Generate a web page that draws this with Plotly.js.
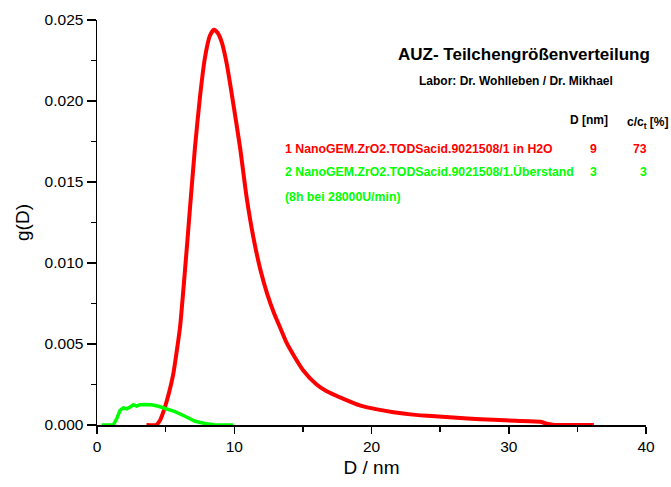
<!DOCTYPE html>
<html>
<head>
<meta charset="utf-8">
<script src="https://cdn.plot.ly/plotly-3.0.1.min.js"></script>
<style>html,body{margin:0;padding:0;background:#fff;}#chart{width:671px;height:487px;}</style>
</head>
<body>
<div id="chart"></div>
<script>
// Series 1 (red): NanoGEM.ZrO2.TODSacid.9021508/1 in H2O
var redD = [3.6, 4.3, 4.6, 4.95, 5.25, 5.56, 5.8, 6.05, 6.41, 6.78, 7.14, 7.50, 7.87, 8.23, 8.52, 8.8, 9.1, 9.45, 9.93, 10.42, 10.90, 11.39, 11.9, 12.4, 12.9, 13.4, 13.8, 14.4, 15.0, 16.0, 16.7, 18.0, 19.2, 20.5, 21.6, 23.0, 24.9, 27.0, 28.9, 30.5, 32.3, 32.7, 33.2, 36.2];
var redG = [0, 0, 0.0003, 0.0011, 0.0020, 0.00316, 0.0045, 0.00604, 0.00954, 0.01344, 0.01715, 0.02023, 0.0227, 0.02404, 0.0244, 0.0242, 0.0236, 0.0223, 0.01983, 0.01715, 0.01406, 0.0116, 0.0096, 0.0081, 0.0069, 0.0059, 0.0051, 0.0042, 0.0034, 0.0025, 0.0021, 0.0016, 0.0012, 0.00095, 0.00079, 0.00064, 0.00052, 0.0004, 0.00032, 0.00026, 0.0002, 0.0001, 0.00002, 0];
// Series 2 (green): NanoGEM.ZrO2.TODSacid.9021508/1.Überstand
var greenD = [0.34, 1.19, 1.43, 1.68, 1.92, 2.16, 2.40, 2.65, 2.89, 3.13, 3.50, 3.98, 4.47, 4.95, 5.68, 6.41, 7.14, 7.87, 8.6, 9.93];
var greenG = [0, 0, 0.00038, 0.0009, 0.00106, 0.001, 0.0011, 0.00125, 0.00116, 0.00125, 0.00127, 0.00125, 0.00116, 0.00104, 0.00083, 0.00054, 0.00023, 0.00009, 0, 0];

var titleText = "AUZ- Teilchengrößenverteilung";
var subtitleText = "Labor: Dr. Wohlleben / Dr. Mikhael";
var headerText = ["D [nm]", "c/c<sub>t</sub> [%]"];
var seriesLabels = ["1 NanoGEM.ZrO2.TODSacid.9021508/1 in H2O", "2 NanoGEM.ZrO2.TODSacid.9021508/1.Überstand"];
var extraLabel = "(8h bei 28000U/min)";
var seriesD = ["9", "3"];
var seriesC = ["73", "3"];
var seriesColors = ["#ff0000", "#00ff00"];
var xTitle = "D / nm";
var yTitle = "g(D)";

var FONT = "Liberation Sans, Arial, sans-serif";

var traces = [
  {x: redD, y: redG, type: "scatter", mode: "lines", line: {color: seriesColors[0], width: 4, shape: "spline", smoothing: 0.6}, hoverinfo: "none"},
  {x: greenD, y: greenG, type: "scatter", mode: "lines", line: {color: seriesColors[1], width: 3.5}, hoverinfo: "none"}
];

var rowY = [0.6822, 0.6254];
var ann = [
  {text: "<b>" + titleText + "</b>", x: 0.7769, y: 0.916, font: {size: 17, color: "#000", family: FONT}, xanchor: "center"},
  {text: "<b>" + subtitleText + "</b>", x: 0.7641, y: 0.8506, font: {size: 12, color: "#000", family: FONT}, xanchor: "center"},
  {text: "<b>" + headerText[0] + "</b>", x: 0.8958, y: 0.7531, font: {size: 12, color: "#000", family: FONT}, xanchor: "center"},
  {text: "<b>" + headerText[1] + "</b>", x: 0.9617, y: 0.745, font: {size: 12, color: "#000", family: FONT}, xanchor: "left"}
];
for (var i = 0; i < seriesLabels.length; i++) {
  ann.push({text: "<b>" + seriesLabels[i] + "</b>", x: 0.3388, y: rowY[i], xanchor: "left", font: {size: 12.3, color: seriesColors[i], family: FONT}});
  ann.push({text: "<b>" + seriesD[i] + "</b>", x: 0.9049, y: rowY[i], xanchor: "center", font: {size: 12.3, color: seriesColors[i], family: FONT}});
  ann.push({text: "<b>" + seriesC[i] + "</b>", x: 1.0055, y: rowY[i], xanchor: "right", font: {size: 12.3, color: seriesColors[i], family: FONT}});
}
ann.push({text: "<b>" + extraLabel + "</b>", x: 0.3388, y: 0.5637, xanchor: "left", font: {size: 12.3, color: seriesColors[1], family: FONT}});
ann.forEach(function(a){ a.xref = "paper"; a.yref = "paper"; a.yanchor = "middle"; a.showarrow = false; });

var layout = {
  width: 671, height: 487,
  margin: {l: 97, r: 25, t: 20, b: 62, pad: 0},
  paper_bgcolor: "#fff", plot_bgcolor: "#fff",
  showlegend: false,
  font: {family: FONT, color: "#000"},
  xaxis: {
    range: [0, 40], dtick: 10, tick0: 0,
    showgrid: false, zeroline: false,
    showline: true, linecolor: "#000", linewidth: 1.5,
    ticks: "outside", ticklen: 7, tickwidth: 1.5, tickcolor: "#000",
    minor: {dtick: 5, ticks: "outside", ticklen: 5, tickwidth: 1.5, tickcolor: "#000", showgrid: false},
    tickfont: {size: 15.5, family: FONT, color: "#000"},
    title: {text: xTitle, font: {size: 19, family: FONT, color: "#000"}, standoff: 6},
    layer: "below traces", automargin: false, fixedrange: true
  },
  yaxis: {
    range: [0, 0.025], dtick: 0.005, tick0: 0, tickformat: ".3f",
    showgrid: false, zeroline: false,
    showline: true, linecolor: "#000", linewidth: 1.5,
    ticks: "outside", ticklen: 9, tickwidth: 1.5, tickcolor: "#000",
    minor: {dtick: 0.0025, ticks: "outside", ticklen: 5, tickwidth: 1.5, tickcolor: "#000", showgrid: false},
    tickfont: {size: 15.5, family: FONT, color: "#000"},
    title: {text: yTitle, font: {size: 19, family: FONT, color: "#000"}, standoff: 10},
    layer: "below traces", automargin: false, fixedrange: true
  },
  annotations: ann
};

Plotly.newPlot("chart", traces, layout, {staticPlot: true, displayModeBar: false});
</script>
</body>
</html>
